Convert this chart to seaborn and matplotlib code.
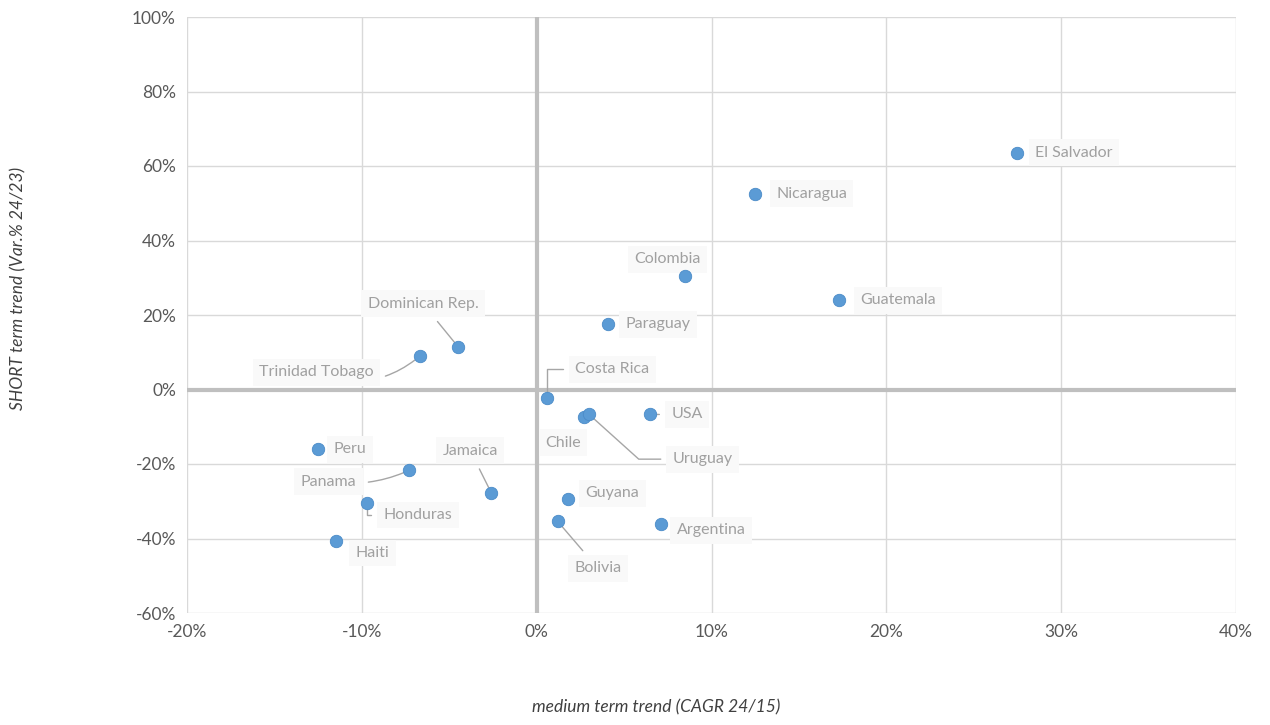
import matplotlib
matplotlib.use("Agg")
import matplotlib.pyplot as plt
import seaborn as sns
import pandas as pd
from matplotlib.ticker import PercentFormatter

# Country trend data (percent)
countries = ["El Salvador", "Nicaragua", "Colombia", "Guatemala", "Paraguay",
             "Dominican Rep.", "Trinidad Tobago", "Costa Rica", "Chile", "Uruguay",
             "USA", "Peru", "Panama", "Jamaica", "Honduras", "Guyana", "Bolivia",
             "Argentina", "Haiti"]
medium_cagr = [27.5, 12.5, 8.5, 17.3, 4.1, -4.5, -6.7, 0.6, 2.7, 3.0,
               6.5, -12.5, -7.3, -2.6, -9.7, 1.8, 1.2, 7.1, -11.5]
short_var = [63.6, 52.6, 30.6, 23.9, 17.7, 11.5, 8.9, -2.4, -7.5, -6.7,
             -6.7, -16.1, -21.7, -27.7, -30.6, -29.3, -35.4, -36.2, -40.8]

x_ticks = [-20, -10, 0, 10, 20, 30, 40]
y_ticks = [-60, -40, -20, 0, 20, 40, 60, 80, 100]

# Label placement offsets (data units) and text alignment
label_offsets = {
    "El Salvador": (1.0, 0.0, "left"),
    "Nicaragua": (1.2, 0.0, "left"),
    "Colombia": (-1.0, 4.4, "center"),
    "Guatemala": (1.2, 0.0, "left"),
    "Paraguay": (1.0, -0.2, "left"),
    "Dominican Rep.": (-2.0, 11.5, "center"),
    "Trinidad Tobago": (-5.9, -4.3, "center"),
    "Costa Rica": (1.6, 7.8, "left"),
    "Chile": (-1.2, -6.8, "center"),
    "Uruguay": (6.5, -12.0, "center"),
    "USA": (1.2, 0.0, "left"),
    "Peru": (0.9, 0.0, "left"),
    "Panama": (-4.6, -3.0, "center"),
    "Jamaica": (-1.2, 11.3, "center"),
    "Honduras": (2.9, -3.1, "center"),
    "Guyana": (1.0, 1.4, "left"),
    "Bolivia": (2.3, -12.6, "center"),
    "Argentina": (0.9, -1.6, "left"),
    "Haiti": (2.1, -3.1, "center"),
}
# Leader line shapes
leaders = {
    "Dominican Rep.": "arc3,rad=0",
    "Trinidad Tobago": "arc3,rad=0.3",
    "Costa Rica": "angle,angleA=0,angleB=90,rad=0",
    "Uruguay": "angle,angleA=0,angleB=-42,rad=0",
    "USA": "arc3,rad=0",
    "Panama": "arc3,rad=0.15",
    "Jamaica": "arc3,rad=0",
    "Honduras": "angle,angleA=0,angleB=90,rad=0",
    "Bolivia": "arc3,rad=0",
}

df = pd.DataFrame({"country": countries, "medium": medium_cagr, "short": short_var})

sns.set_theme(style="white")
plt.rcParams["font.family"] = ["Lato", "DejaVu Sans"]
plt.rcParams["axes.unicode_minus"] = False

fig = plt.figure(figsize=(12.7, 7.25), dpi=100)
ax = fig.add_axes([187 / 1270, 1 - 613 / 725, (1236 - 187) / 1270, (613 - 17) / 725])

# Grid and emphasised zero axes
for v in x_ticks:
    ax.axvline(v, color="#d9d9d9", lw=1.0, zorder=0)
for v in y_ticks:
    ax.axhline(v, color="#d9d9d9", lw=1.0, zorder=0)
ax.axvline(0, color="#bfbfbf", lw=3.0, zorder=1)
ax.axhline(0, color="#bfbfbf", lw=3.0, zorder=1)

sns.scatterplot(data=df, x="medium", y="short", ax=ax, s=80, color="#5b9bd5",
                edgecolor="#4a8bc8", linewidth=0.6, zorder=5, legend=False)

for name, xv, yv in zip(countries, medium_cagr, short_var):
    dx, dy, ha = label_offsets[name]
    arrow = None
    if name in leaders:
        arrow = dict(arrowstyle="-", color="#a6a6a6", lw=1.0, shrinkA=4, shrinkB=4,
                     connectionstyle=leaders[name])
    ax.annotate(name, xy=(xv, yv), xytext=(xv + dx, yv + dy), ha=ha, va="center",
                fontsize=11.5, color="#a0a0a0", zorder=4,
                bbox=dict(boxstyle="square,pad=0.4", fc="#f9f9f9", ec="none"),
                arrowprops=arrow)

ax.set_xlim(-20, 40)
ax.set_ylim(-60, 100)
ax.set_xticks(x_ticks)
ax.set_yticks(y_ticks)
ax.xaxis.set_major_formatter(PercentFormatter(decimals=0))
ax.yaxis.set_major_formatter(PercentFormatter(decimals=0))
ax.tick_params(axis="both", length=0, labelsize=12.5, labelcolor="#595959", pad=8)
for s in ax.spines.values():
    s.set_visible(False)
ax.set_xlabel("")
ax.set_ylabel("")

fig.text(656 / 1270, 1 - 707 / 725, "medium term trend (CAGR 24/15)", ha="center", va="center",
         fontsize=12.5, style="italic", color="#404040")
fig.text(18 / 1270, 1 - 288 / 725, "SHORT term trend (Var.% 24/23)", ha="center", va="center",
         rotation=90, fontsize=12.5, style="italic", color="#404040")

fig.savefig("out.png", dpi=100)
